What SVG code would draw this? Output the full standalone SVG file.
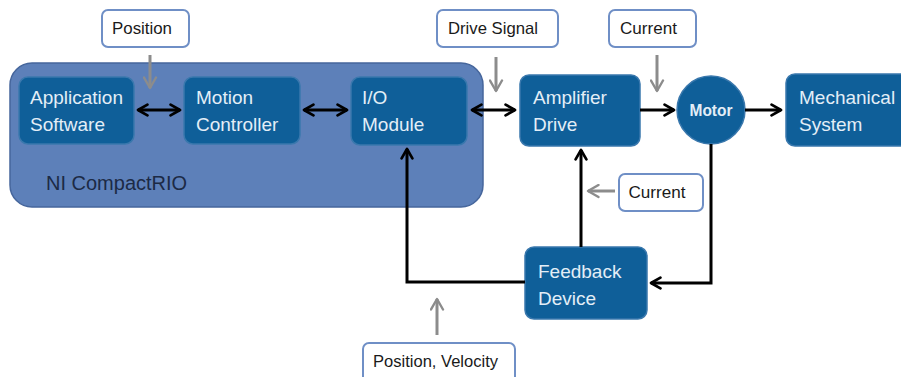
<svg xmlns="http://www.w3.org/2000/svg" width="901" height="377" viewBox="0 0 901 377">
<defs>
<marker id="ah" viewBox="0 0 10 10" refX="8" refY="5" markerWidth="4.5" markerHeight="4.5" orient="auto-start-reverse" markerUnits="strokeWidth">
<path d="M1,1 L8,5 L1,9" fill="none" stroke="#000" stroke-width="2" stroke-linecap="round" stroke-linejoin="round"/>
</marker>
<marker id="ag" viewBox="0 0 10 10" refX="8" refY="5" markerWidth="5" markerHeight="5" orient="auto" markerUnits="strokeWidth">
<path d="M1,1 L8,5 L1,9" fill="none" stroke="#8c8c8c" stroke-width="1.6" stroke-linecap="round" stroke-linejoin="round"/>
</marker>
</defs>
<style>
.node{fill:#0f5f99;stroke:#3a78ad;stroke-width:1.5}
.nt{font-family:"Liberation Sans",Arial,sans-serif;font-size:19px;fill:#e3eef7}
.lb{fill:#fff;stroke:#6f8fc6;stroke-width:2}
.lt{font-family:"Liberation Sans",Arial,sans-serif;font-size:16.5px;fill:#1a1a1a;text-anchor:middle}
.c{fill:none;stroke:#000;stroke-width:3}
.g{fill:none;stroke:#8c8c8c;stroke-width:3}
</style>
<rect width="901" height="377" fill="#fff"/>
<g id="compactrio">
<rect x="10" y="63" width="473" height="144" rx="22" fill="#5d80b9" stroke="#46669c" stroke-width="1.5"/>
<text x="46" y="190" font-family="'Liberation Sans',Arial,sans-serif" font-size="20" fill="#1c2a45">NI CompactRIO</text>
</g>
<g id="app">
<rect class="node" x="19" y="77" width="115" height="67" rx="9"/>
<text class="nt" x="30" y="104">Application</text>
<text class="nt" x="30" y="131">Software</text>
</g>
<g id="motion">
<rect class="node" x="184" y="77" width="116" height="67" rx="9"/>
<text class="nt" x="196" y="104">Motion</text>
<text class="nt" x="196" y="131">Controller</text>
</g>
<g id="io">
<rect class="node" x="351" y="77" width="116" height="68" rx="9"/>
<text class="nt" x="362" y="104">I/O</text>
<text class="nt" x="362" y="131">Module</text>
</g>
<g id="amp">
<rect class="node" x="520" y="75" width="120" height="71" rx="9"/>
<text class="nt" x="533" y="104">Amplifier</text>
<text class="nt" x="533" y="131">Drive</text>
</g>
<g id="motor">
<circle class="node" cx="711" cy="110" r="34"/>
<text x="711" y="116" text-anchor="middle" font-family="'Liberation Sans',Arial,sans-serif" font-size="16" font-weight="bold" fill="#e3eef7" textLength="43" lengthAdjust="spacingAndGlyphs">Motor</text>
</g>
<g id="mech">
<rect class="node" x="786" y="74" width="125" height="72" rx="9"/>
<text class="nt" x="799" y="104">Mechanical</text>
<text class="nt" x="799" y="131">System</text>
</g>
<g id="feedback">
<rect class="node" x="525" y="247" width="122" height="72" rx="9"/>
<text class="nt" x="538" y="278">Feedback</text>
<text class="nt" x="538" y="305">Device</text>
</g>
<g id="label-position">
<rect class="lb" x="102" y="10" width="87" height="37" rx="6"/>
<text class="lt" x="142" y="34" textLength="60" lengthAdjust="spacingAndGlyphs">Position</text>
</g>
<g id="label-drive">
<rect class="lb" x="437" y="10" width="121" height="37" rx="6"/>
<text class="lt" x="493" y="34" textLength="90" lengthAdjust="spacingAndGlyphs">Drive Signal</text>
</g>
<g id="label-current1">
<rect class="lb" x="609" y="10" width="87" height="37" rx="6"/>
<text class="lt" x="648.5" y="34" textLength="57" lengthAdjust="spacingAndGlyphs">Current</text>
</g>
<g id="label-current2">
<rect class="lb" x="619" y="174" width="84" height="37" rx="6"/>
<text class="lt" x="657" y="198" textLength="57" lengthAdjust="spacingAndGlyphs">Current</text>
</g>
<g id="label-posvel">
<rect class="lb" x="363" y="343" width="152" height="40" rx="6"/>
<text class="lt" x="435.5" y="367" textLength="125" lengthAdjust="spacingAndGlyphs">Position, Velocity</text>
</g>
<g id="connectors">
<line class="c" x1="138" y1="110" x2="180" y2="110" marker-start="url(#ah)" marker-end="url(#ah)"/>
<line class="c" x1="304" y1="110" x2="347" y2="110" marker-start="url(#ah)" marker-end="url(#ah)"/>
<line class="c" x1="472" y1="110" x2="515" y2="110" marker-start="url(#ah)" marker-end="url(#ah)"/>
<line class="c" x1="640" y1="110" x2="674" y2="110" marker-end="url(#ah)"/>
<line class="c" x1="745" y1="110" x2="781" y2="110" marker-end="url(#ah)"/>
<polyline class="c" points="711,144 711,283 651,283" marker-end="url(#ah)"/>
<line class="c" x1="581" y1="247" x2="581" y2="150" marker-end="url(#ah)"/>
<polyline class="c" points="525,282 407,282 407,149" marker-end="url(#ah)"/>
<line class="g" x1="150" y1="55" x2="150" y2="88" marker-end="url(#ag)"/>
<line class="g" x1="496" y1="57" x2="496" y2="91" marker-end="url(#ag)"/>
<line class="g" x1="657" y1="55" x2="657" y2="91" marker-end="url(#ag)"/>
<line class="g" x1="615" y1="191" x2="588" y2="191" marker-end="url(#ag)"/>
<line class="g" x1="437" y1="335" x2="437" y2="299" marker-end="url(#ag)"/>
</g>
</svg>
